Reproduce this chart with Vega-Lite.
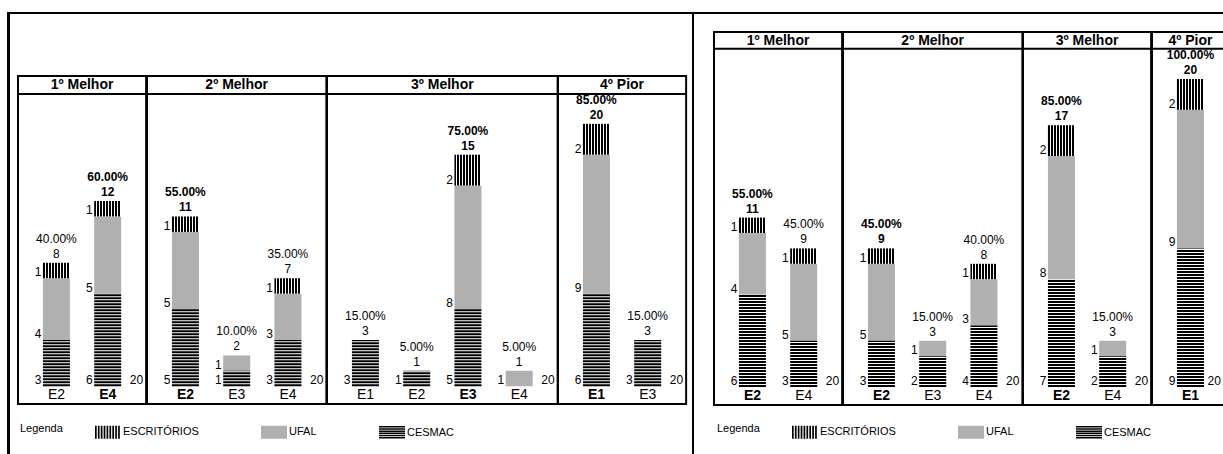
{
 "$schema": "https://vega.github.io/schema/vega-lite/v6.json",
 "padding": {"left": 7, "top": 12, "right": 0, "bottom": 0},
 "config": {
  "font": "Liberation Sans",
  "view": {"stroke": null},
  "axis": {"disable": true},
  "text": {"color": "black"},
  "bar": {"color": {"gradient": "linear", "x1": 0, "y1": 0, "x2": 1, "y2": 0, "stops": [
     {"offset": 0, "color": "#000"}, {"offset": 0.0667, "color": "#000"}, {"offset": 0.0667, "color": "#fff"}, {"offset": 0.1111, "color": "#fff"},
     {"offset": 0.1111, "color": "#000"}, {"offset": 0.1778, "color": "#000"}, {"offset": 0.1778, "color": "#fff"}, {"offset": 0.2222, "color": "#fff"},
     {"offset": 0.2222, "color": "#000"}, {"offset": 0.2889, "color": "#000"}, {"offset": 0.2889, "color": "#fff"}, {"offset": 0.3333, "color": "#fff"},
     {"offset": 0.3333, "color": "#000"}, {"offset": 0.4, "color": "#000"}, {"offset": 0.4, "color": "#fff"}, {"offset": 0.4444, "color": "#fff"},
     {"offset": 0.4444, "color": "#000"}, {"offset": 0.5111, "color": "#000"}, {"offset": 0.5111, "color": "#fff"}, {"offset": 0.5556, "color": "#fff"},
     {"offset": 0.5556, "color": "#000"}, {"offset": 0.6222, "color": "#000"}, {"offset": 0.6222, "color": "#fff"}, {"offset": 0.6667, "color": "#fff"},
     {"offset": 0.6667, "color": "#000"}, {"offset": 0.7333, "color": "#000"}, {"offset": 0.7333, "color": "#fff"}, {"offset": 0.7778, "color": "#fff"},
     {"offset": 0.7778, "color": "#000"}, {"offset": 0.8444, "color": "#000"}, {"offset": 0.8444, "color": "#fff"}, {"offset": 0.8889, "color": "#fff"},
     {"offset": 0.8889, "color": "#000"}, {"offset": 0.9556, "color": "#000"}, {"offset": 0.9556, "color": "#fff"}, {"offset": 1, "color": "#fff"}]}},
  "legend": {"orient": "none", "direction": "horizontal", "titleOrient": "left", "titleAnchor": "middle", "titleBaseline": "middle", "titleFontWeight": "normal", "titleFontSize": 11, "titleColor": "black", "titlePadding": 32, "labelFontSize": 11, "labelColor": "black", "labelOffset": 2, "symbolSize": 676, "symbolStrokeWidth": 0, "columnPadding": 62, "padding": 0},
  "style": {
   "seg": {"align": "right", "baseline": "bottom", "dx": -15, "dy": 1, "fontSize": 12},
   "tot": {"baseline": "bottom", "dy": -2, "fontSize": 12},
   "pct": {"baseline": "bottom", "dy": -17, "fontSize": 12},
   "xl": {"baseline": "top", "dy": 2, "fontSize": 14},
   "hd": {"baseline": "middle", "fontSize": 14, "fontWeight": "bold"},
   "n20": {"align": "right", "baseline": "bottom", "dx": -3, "dy": 1, "fontSize": 12}
  }
 },
 "datasets": {
  "esq": [
   {"grupo": "1º Melhor", "barra": "E2", "CESMAC": 3, "UFAL": 4, "ESCRITÓRIOS": 1, "total": 8, "pct": "40.00%", "destaque": false, "n": 20},
   {"grupo": "1º Melhor", "barra": "E4", "CESMAC": 6, "UFAL": 5, "ESCRITÓRIOS": 1, "total": 12, "pct": "60.00%", "destaque": true, "n": 20},
   {"grupo": "2º Melhor", "barra": "E2", "CESMAC": 5, "UFAL": 5, "ESCRITÓRIOS": 1, "total": 11, "pct": "55.00%", "destaque": true, "n": 20},
   {"grupo": "2º Melhor", "barra": "E3", "CESMAC": 1, "UFAL": 1, "ESCRITÓRIOS": 0, "total": 2, "pct": "10.00%", "destaque": false, "n": 20},
   {"grupo": "2º Melhor", "barra": "E4", "CESMAC": 3, "UFAL": 3, "ESCRITÓRIOS": 1, "total": 7, "pct": "35.00%", "destaque": false, "n": 20},
   {"grupo": "3º Melhor", "barra": "E1", "CESMAC": 3, "UFAL": 0, "ESCRITÓRIOS": 0, "total": 3, "pct": "15.00%", "destaque": false, "n": 20},
   {"grupo": "3º Melhor", "barra": "E2", "CESMAC": 1, "UFAL": 0, "ESCRITÓRIOS": 0, "total": 1, "pct": "5.00%", "destaque": false, "n": 20},
   {"grupo": "3º Melhor", "barra": "E3", "CESMAC": 5, "UFAL": 8, "ESCRITÓRIOS": 2, "total": 15, "pct": "75.00%", "destaque": true, "n": 20},
   {"grupo": "3º Melhor", "barra": "E4", "CESMAC": 0, "UFAL": 1, "ESCRITÓRIOS": 0, "total": 1, "pct": "5.00%", "destaque": false, "n": 20},
   {"grupo": "4º Pior", "barra": "E1", "CESMAC": 6, "UFAL": 9, "ESCRITÓRIOS": 2, "total": 20, "pct": "85.00%", "destaque": true, "n": 20},
   {"grupo": "4º Pior", "barra": "E3", "CESMAC": 3, "UFAL": 0, "ESCRITÓRIOS": 0, "total": 3, "pct": "15.00%", "destaque": false, "n": 20}
  ],
  "dir": [
   {"grupo": "1º Melhor", "barra": "E2", "CESMAC": 6, "UFAL": 4, "ESCRITÓRIOS": 1, "total": 11, "pct": "55.00%", "destaque": true, "n": 20},
   {"grupo": "1º Melhor", "barra": "E4", "CESMAC": 3, "UFAL": 5, "ESCRITÓRIOS": 1, "total": 9, "pct": "45.00%", "destaque": false, "n": 20},
   {"grupo": "2º Melhor", "barra": "E2", "CESMAC": 3, "UFAL": 5, "ESCRITÓRIOS": 1, "total": 9, "pct": "45.00%", "destaque": true, "n": 20},
   {"grupo": "2º Melhor", "barra": "E3", "CESMAC": 2, "UFAL": 1, "ESCRITÓRIOS": 0, "total": 3, "pct": "15.00%", "destaque": false, "n": 20},
   {"grupo": "2º Melhor", "barra": "E4", "CESMAC": 4, "UFAL": 3, "ESCRITÓRIOS": 1, "total": 8, "pct": "40.00%", "destaque": false, "n": 20},
   {"grupo": "3º Melhor", "barra": "E2", "CESMAC": 7, "UFAL": 8, "ESCRITÓRIOS": 2, "total": 17, "pct": "85.00%", "destaque": true, "n": 20},
   {"grupo": "3º Melhor", "barra": "E4", "CESMAC": 2, "UFAL": 1, "ESCRITÓRIOS": 0, "total": 3, "pct": "15.00%", "destaque": false, "n": 20},
   {"grupo": "4º Pior", "barra": "E1", "CESMAC": 9, "UFAL": 9, "ESCRITÓRIOS": 2, "total": 20, "pct": "100.00%", "destaque": true, "n": 20}
  ]
 },
 "spacing": 0,
 "bounds": "flush",
 "vconcat": [
  {"width": 1240, "height": 0.01, "data": {"values": []}, "mark": "point", "encoding": {}, "view": {"stroke": "black", "strokeWidth": 2}},
  {"spacing": 0, "bounds": "flush",
   "resolve": {"scale": {"shape": "independent", "color": "independent"}, "legend": {"shape": "independent", "color": "independent"}},
   "hconcat": [
   {"width": 0.01, "height": 443, "data": {"values": []}, "mark": "point", "encoding": {}, "view": {"stroke": "black", "strokeWidth": 2}},
   {"width": 0.01, "height": 442, "data": {"values": []}, "mark": "point", "encoding": {}, "view": {"stroke": "black", "strokeWidth": 2}},
   {"width": 8, "height": 1, "data": {"values": []}, "mark": "point", "encoding": {}},
   {"width": {"step": 51.25}, "height": 390, "data": {"name": "esq"},
    "transform": [{"filter": "datum.grupo === '1º Melhor'"}, {"fold": ["CESMAC", "UFAL", "ESCRITÓRIOS"], "as": ["serie", "valor"]}, {"stack": "valor", "groupby": ["barra"], "as": ["y0", "y1"]}],
    "layer": [
     {"transform": [{"filter": "datum.serie === 'UFAL'"}], "mark": {"type": "bar", "color": "#b0b0b0", "width": {"band": 0.527}}, "encoding": {"x": {"field": "barra", "type": "nominal", "scale": {"paddingInner": 0, "paddingOuter": 0.25}}, "y": {"field": "y0", "type": "quantitative", "scale": {"domain": [-1.146, 24.113], "nice": false, "zero": false}}, "y2": {"field": "y1"}}},
     {"transform": [{"filter": "datum.serie === 'ESCRITÓRIOS'"}], "mark": {"type": "bar", "width": {"band": 0.527}}, "encoding": {"x": {"field": "barra", "type": "nominal"}, "y": {"field": "y0", "type": "quantitative"}, "y2": {"field": "y1"}}},
     {"transform": [{"filter": "datum.serie === 'CESMAC' && datum.valor > 0"}], "mark": {"type": "rule", "color": "black", "strokeWidth": 27, "strokeDash": [2, 1]}, "encoding": {"x": {"field": "barra", "type": "nominal"}, "y": {"field": "y0", "type": "quantitative"}, "y2": {"field": "y1"}}},
     {"transform": [{"filter": "datum.valor > 0"}], "mark": {"type": "text", "style": "seg"}, "encoding": {"x": {"field": "barra", "type": "nominal"}, "y": {"field": "y0", "type": "quantitative"}, "text": {"field": "valor", "type": "quantitative"}}},
     {"transform": [{"filter": "datum.serie === 'ESCRITÓRIOS'"}], "mark": {"type": "text", "style": "tot", "fontWeight": {"expr": "datum.destaque ? 'bold' : 'normal'"}}, "encoding": {"x": {"field": "barra", "type": "nominal"}, "y": {"field": "y1", "type": "quantitative"}, "text": {"field": "total", "type": "quantitative"}}},
     {"transform": [{"filter": "datum.serie === 'ESCRITÓRIOS'"}], "mark": {"type": "text", "style": "pct", "fontWeight": {"expr": "datum.destaque ? 'bold' : 'normal'"}}, "encoding": {"x": {"field": "barra", "type": "nominal"}, "y": {"field": "y1", "type": "quantitative"}, "text": {"field": "pct", "type": "nominal"}}},
     {"transform": [{"filter": "datum.serie === 'CESMAC'"}], "mark": {"type": "text", "style": "xl", "fontWeight": {"expr": "datum.destaque ? 'bold' : 'normal'"}}, "encoding": {"x": {"field": "barra", "type": "nominal"}, "y": {"datum": 0}, "text": {"field": "barra", "type": "nominal"}}},
     {"transform": [{"aggregate": [{"op": "max", "field": "n", "as": "n"}], "groupby": ["grupo"]}], "mark": {"type": "rect", "filled": false, "color": "black", "strokeWidth": 2}, "encoding": {"y": {"datum": 20.10}, "y2": {"datum": -1.146}}},
     {"transform": [{"aggregate": [{"op": "max", "field": "n", "as": "n"}], "groupby": ["grupo"]}], "mark": {"type": "rule", "color": "black", "strokeWidth": 2}, "encoding": {"y": {"datum": 18.93}}},
     {"transform": [{"aggregate": [{"op": "max", "field": "n", "as": "n"}], "groupby": ["grupo"]}], "mark": {"type": "text", "style": "hd"}, "encoding": {"y": {"datum": 19.51}, "text": {"field": "grupo", "type": "nominal"}}},
     {"transform": [{"aggregate": [{"op": "max", "field": "n", "as": "n"}], "groupby": ["grupo"]}], "mark": {"type": "text", "style": "n20"}, "encoding": {"x": {"value": "width"}, "y": {"datum": 0}, "text": {"field": "n", "type": "quantitative"}}},
     {"transform": [{"filter": "false"}], "mark": {"type": "point", "filled": true, "opacity": 1},
      "encoding": {
       "shape": {"field": "serie", "type": "nominal", "title": "Legenda", "legend": {"legendX": 2, "legendY": 405}, "scale": {"domain": ["ESCRITÓRIOS", "UFAL", "CESMAC"], "range": [
        "M-1,-0.5h0.13v1h-0.13zM-0.778,-0.5h0.13v1h-0.13zM-0.556,-0.5h0.13v1h-0.13zM-0.333,-0.5h0.13v1h-0.13zM-0.111,-0.5h0.13v1h-0.13zM0.111,-0.5h0.13v1h-0.13zM0.333,-0.5h0.13v1h-0.13zM0.556,-0.5h0.13v1h-0.13zM0.778,-0.5h0.13v1h-0.13z",
        "M-1,-0.5h2v1h-2z",
        "M-1,-0.5h2v0.11h-2zM-1,-0.333h2v0.11h-2zM-1,-0.167h2v0.11h-2zM-1,0h2v0.11h-2zM-1,0.167h2v0.11h-2zM-1,0.333h2v0.11h-2z"]}},
       "color": {"field": "serie", "type": "nominal", "title": "Legenda", "legend": {"legendX": 2, "legendY": 405}, "scale": {"domain": ["ESCRITÓRIOS", "UFAL", "CESMAC"], "range": ["#000000", "#b0b0b0", "#000000"]}}}}
    ]},
   {"width": {"step": 51.25}, "height": 390, "data": {"name": "esq"},
    "transform": [{"filter": "datum.grupo === '2º Melhor'"}, {"fold": ["CESMAC", "UFAL", "ESCRITÓRIOS"], "as": ["serie", "valor"]}, {"stack": "valor", "groupby": ["barra"], "as": ["y0", "y1"]}],
    "layer": [
     {"transform": [{"filter": "datum.serie === 'UFAL'"}], "mark": {"type": "bar", "color": "#b0b0b0", "width": {"band": 0.527}}, "encoding": {"x": {"field": "barra", "type": "nominal", "scale": {"paddingInner": 0, "paddingOuter": 0.25}}, "y": {"field": "y0", "type": "quantitative", "scale": {"domain": [-1.146, 24.113], "nice": false, "zero": false}}, "y2": {"field": "y1"}}},
     {"transform": [{"filter": "datum.serie === 'ESCRITÓRIOS'"}], "mark": {"type": "bar", "width": {"band": 0.527}}, "encoding": {"x": {"field": "barra", "type": "nominal"}, "y": {"field": "y0", "type": "quantitative"}, "y2": {"field": "y1"}}},
     {"transform": [{"filter": "datum.serie === 'CESMAC' && datum.valor > 0"}], "mark": {"type": "rule", "color": "black", "strokeWidth": 27, "strokeDash": [2, 1]}, "encoding": {"x": {"field": "barra", "type": "nominal"}, "y": {"field": "y0", "type": "quantitative"}, "y2": {"field": "y1"}}},
     {"transform": [{"filter": "datum.valor > 0"}], "mark": {"type": "text", "style": "seg"}, "encoding": {"x": {"field": "barra", "type": "nominal"}, "y": {"field": "y0", "type": "quantitative"}, "text": {"field": "valor", "type": "quantitative"}}},
     {"transform": [{"filter": "datum.serie === 'ESCRITÓRIOS'"}], "mark": {"type": "text", "style": "tot", "fontWeight": {"expr": "datum.destaque ? 'bold' : 'normal'"}}, "encoding": {"x": {"field": "barra", "type": "nominal"}, "y": {"field": "y1", "type": "quantitative"}, "text": {"field": "total", "type": "quantitative"}}},
     {"transform": [{"filter": "datum.serie === 'ESCRITÓRIOS'"}], "mark": {"type": "text", "style": "pct", "fontWeight": {"expr": "datum.destaque ? 'bold' : 'normal'"}}, "encoding": {"x": {"field": "barra", "type": "nominal"}, "y": {"field": "y1", "type": "quantitative"}, "text": {"field": "pct", "type": "nominal"}}},
     {"transform": [{"filter": "datum.serie === 'CESMAC'"}], "mark": {"type": "text", "style": "xl", "fontWeight": {"expr": "datum.destaque ? 'bold' : 'normal'"}}, "encoding": {"x": {"field": "barra", "type": "nominal"}, "y": {"datum": 0}, "text": {"field": "barra", "type": "nominal"}}},
     {"transform": [{"aggregate": [{"op": "max", "field": "n", "as": "n"}], "groupby": ["grupo"]}], "mark": {"type": "rect", "filled": false, "color": "black", "strokeWidth": 2}, "encoding": {"y": {"datum": 20.10}, "y2": {"datum": -1.146}}},
     {"transform": [{"aggregate": [{"op": "max", "field": "n", "as": "n"}], "groupby": ["grupo"]}], "mark": {"type": "rule", "color": "black", "strokeWidth": 2}, "encoding": {"y": {"datum": 18.93}}},
     {"transform": [{"aggregate": [{"op": "max", "field": "n", "as": "n"}], "groupby": ["grupo"]}], "mark": {"type": "text", "style": "hd"}, "encoding": {"y": {"datum": 19.51}, "text": {"field": "grupo", "type": "nominal"}}},
     {"transform": [{"aggregate": [{"op": "max", "field": "n", "as": "n"}], "groupby": ["grupo"]}], "mark": {"type": "text", "style": "n20"}, "encoding": {"x": {"value": "width"}, "y": {"datum": 0}, "text": {"field": "n", "type": "quantitative"}}}
    ]},
   {"width": {"step": 51.25}, "height": 390, "data": {"name": "esq"},
    "transform": [{"filter": "datum.grupo === '3º Melhor'"}, {"fold": ["CESMAC", "UFAL", "ESCRITÓRIOS"], "as": ["serie", "valor"]}, {"stack": "valor", "groupby": ["barra"], "as": ["y0", "y1"]}],
    "layer": [
     {"transform": [{"filter": "datum.serie === 'UFAL'"}], "mark": {"type": "bar", "color": "#b0b0b0", "width": {"band": 0.527}}, "encoding": {"x": {"field": "barra", "type": "nominal", "scale": {"paddingInner": 0, "paddingOuter": 0.25}}, "y": {"field": "y0", "type": "quantitative", "scale": {"domain": [-1.146, 24.113], "nice": false, "zero": false}}, "y2": {"field": "y1"}}},
     {"transform": [{"filter": "datum.serie === 'ESCRITÓRIOS'"}], "mark": {"type": "bar", "width": {"band": 0.527}}, "encoding": {"x": {"field": "barra", "type": "nominal"}, "y": {"field": "y0", "type": "quantitative"}, "y2": {"field": "y1"}}},
     {"transform": [{"filter": "datum.serie === 'CESMAC' && datum.valor > 0"}], "mark": {"type": "rule", "color": "black", "strokeWidth": 27, "strokeDash": [2, 1]}, "encoding": {"x": {"field": "barra", "type": "nominal"}, "y": {"field": "y0", "type": "quantitative"}, "y2": {"field": "y1"}}},
     {"transform": [{"filter": "datum.valor > 0"}], "mark": {"type": "text", "style": "seg"}, "encoding": {"x": {"field": "barra", "type": "nominal"}, "y": {"field": "y0", "type": "quantitative"}, "text": {"field": "valor", "type": "quantitative"}}},
     {"transform": [{"filter": "datum.serie === 'ESCRITÓRIOS'"}], "mark": {"type": "text", "style": "tot", "fontWeight": {"expr": "datum.destaque ? 'bold' : 'normal'"}}, "encoding": {"x": {"field": "barra", "type": "nominal"}, "y": {"field": "y1", "type": "quantitative"}, "text": {"field": "total", "type": "quantitative"}}},
     {"transform": [{"filter": "datum.serie === 'ESCRITÓRIOS'"}], "mark": {"type": "text", "style": "pct", "fontWeight": {"expr": "datum.destaque ? 'bold' : 'normal'"}}, "encoding": {"x": {"field": "barra", "type": "nominal"}, "y": {"field": "y1", "type": "quantitative"}, "text": {"field": "pct", "type": "nominal"}}},
     {"transform": [{"filter": "datum.serie === 'CESMAC'"}], "mark": {"type": "text", "style": "xl", "fontWeight": {"expr": "datum.destaque ? 'bold' : 'normal'"}}, "encoding": {"x": {"field": "barra", "type": "nominal"}, "y": {"datum": 0}, "text": {"field": "barra", "type": "nominal"}}},
     {"transform": [{"aggregate": [{"op": "max", "field": "n", "as": "n"}], "groupby": ["grupo"]}], "mark": {"type": "rect", "filled": false, "color": "black", "strokeWidth": 2}, "encoding": {"y": {"datum": 20.10}, "y2": {"datum": -1.146}}},
     {"transform": [{"aggregate": [{"op": "max", "field": "n", "as": "n"}], "groupby": ["grupo"]}], "mark": {"type": "rule", "color": "black", "strokeWidth": 2}, "encoding": {"y": {"datum": 18.93}}},
     {"transform": [{"aggregate": [{"op": "max", "field": "n", "as": "n"}], "groupby": ["grupo"]}], "mark": {"type": "text", "style": "hd"}, "encoding": {"y": {"datum": 19.51}, "text": {"field": "grupo", "type": "nominal"}}},
     {"transform": [{"aggregate": [{"op": "max", "field": "n", "as": "n"}], "groupby": ["grupo"]}], "mark": {"type": "text", "style": "n20"}, "encoding": {"x": {"value": "width"}, "y": {"datum": 0}, "text": {"field": "n", "type": "quantitative"}}}
    ]},
   {"width": {"step": 51.25}, "height": 390, "data": {"name": "esq"},
    "transform": [{"filter": "datum.grupo === '4º Pior'"}, {"fold": ["CESMAC", "UFAL", "ESCRITÓRIOS"], "as": ["serie", "valor"]}, {"stack": "valor", "groupby": ["barra"], "as": ["y0", "y1"]}],
    "layer": [
     {"transform": [{"filter": "datum.serie === 'UFAL'"}], "mark": {"type": "bar", "color": "#b0b0b0", "width": {"band": 0.527}}, "encoding": {"x": {"field": "barra", "type": "nominal", "scale": {"paddingInner": 0, "paddingOuter": 0.25}}, "y": {"field": "y0", "type": "quantitative", "scale": {"domain": [-1.146, 24.113], "nice": false, "zero": false}}, "y2": {"field": "y1"}}},
     {"transform": [{"filter": "datum.serie === 'ESCRITÓRIOS'"}], "mark": {"type": "bar", "width": {"band": 0.527}}, "encoding": {"x": {"field": "barra", "type": "nominal"}, "y": {"field": "y0", "type": "quantitative"}, "y2": {"field": "y1"}}},
     {"transform": [{"filter": "datum.serie === 'CESMAC' && datum.valor > 0"}], "mark": {"type": "rule", "color": "black", "strokeWidth": 27, "strokeDash": [2, 1]}, "encoding": {"x": {"field": "barra", "type": "nominal"}, "y": {"field": "y0", "type": "quantitative"}, "y2": {"field": "y1"}}},
     {"transform": [{"filter": "datum.valor > 0"}], "mark": {"type": "text", "style": "seg"}, "encoding": {"x": {"field": "barra", "type": "nominal"}, "y": {"field": "y0", "type": "quantitative"}, "text": {"field": "valor", "type": "quantitative"}}},
     {"transform": [{"filter": "datum.serie === 'ESCRITÓRIOS'"}], "mark": {"type": "text", "style": "tot", "fontWeight": {"expr": "datum.destaque ? 'bold' : 'normal'"}}, "encoding": {"x": {"field": "barra", "type": "nominal"}, "y": {"field": "y1", "type": "quantitative"}, "text": {"field": "total", "type": "quantitative"}}},
     {"transform": [{"filter": "datum.serie === 'ESCRITÓRIOS'"}], "mark": {"type": "text", "style": "pct", "fontWeight": {"expr": "datum.destaque ? 'bold' : 'normal'"}}, "encoding": {"x": {"field": "barra", "type": "nominal"}, "y": {"field": "y1", "type": "quantitative"}, "text": {"field": "pct", "type": "nominal"}}},
     {"transform": [{"filter": "datum.serie === 'CESMAC'"}], "mark": {"type": "text", "style": "xl", "fontWeight": {"expr": "datum.destaque ? 'bold' : 'normal'"}}, "encoding": {"x": {"field": "barra", "type": "nominal"}, "y": {"datum": 0}, "text": {"field": "barra", "type": "nominal"}}},
     {"transform": [{"aggregate": [{"op": "max", "field": "n", "as": "n"}], "groupby": ["grupo"]}], "mark": {"type": "rect", "filled": false, "color": "black", "strokeWidth": 2}, "encoding": {"y": {"datum": 20.10}, "y2": {"datum": -1.146}}},
     {"transform": [{"aggregate": [{"op": "max", "field": "n", "as": "n"}], "groupby": ["grupo"]}], "mark": {"type": "rule", "color": "black", "strokeWidth": 2}, "encoding": {"y": {"datum": 18.93}}},
     {"transform": [{"aggregate": [{"op": "max", "field": "n", "as": "n"}], "groupby": ["grupo"]}], "mark": {"type": "text", "style": "hd"}, "encoding": {"y": {"datum": 19.51}, "text": {"field": "grupo", "type": "nominal"}}},
     {"transform": [{"aggregate": [{"op": "max", "field": "n", "as": "n"}], "groupby": ["grupo"]}], "mark": {"type": "text", "style": "n20"}, "encoding": {"x": {"value": "width"}, "y": {"datum": 0}, "text": {"field": "n", "type": "quantitative"}}}
    ]},
   {"width": 6, "height": 1, "data": {"values": []}, "mark": "point", "encoding": {}},
   {"width": 0.01, "height": 442, "data": {"values": []}, "mark": "point", "encoding": {}, "view": {"stroke": "black", "strokeWidth": 2}},
   {"width": 20, "height": 1, "data": {"values": []}, "mark": "point", "encoding": {}},
   {"width": {"step": 51.25}, "height": 390, "data": {"name": "dir"},
    "transform": [{"filter": "datum.grupo === '1º Melhor'"}, {"fold": ["CESMAC", "UFAL", "ESCRITÓRIOS"], "as": ["serie", "valor"]}, {"stack": "valor", "groupby": ["barra"], "as": ["y0", "y1"]}],
    "layer": [
     {"transform": [{"filter": "datum.serie === 'UFAL'"}], "mark": {"type": "bar", "color": "#b0b0b0", "width": {"band": 0.527}}, "encoding": {"x": {"field": "barra", "type": "nominal", "scale": {"paddingInner": 0, "paddingOuter": 0.25}}, "y": {"field": "y0", "type": "quantitative", "scale": {"domain": [-1.104, 24.221], "nice": false, "zero": false}}, "y2": {"field": "y1"}}},
     {"transform": [{"filter": "datum.serie === 'ESCRITÓRIOS'"}], "mark": {"type": "bar", "width": {"band": 0.527}}, "encoding": {"x": {"field": "barra", "type": "nominal"}, "y": {"field": "y0", "type": "quantitative"}, "y2": {"field": "y1"}}},
     {"transform": [{"filter": "datum.serie === 'CESMAC' && datum.valor > 0"}], "mark": {"type": "rule", "color": "black", "strokeWidth": 27, "strokeDash": [2, 1]}, "encoding": {"x": {"field": "barra", "type": "nominal"}, "y": {"field": "y0", "type": "quantitative"}, "y2": {"field": "y1"}}},
     {"transform": [{"filter": "datum.valor > 0"}], "mark": {"type": "text", "style": "seg"}, "encoding": {"x": {"field": "barra", "type": "nominal"}, "y": {"field": "y0", "type": "quantitative"}, "text": {"field": "valor", "type": "quantitative"}}},
     {"transform": [{"filter": "datum.serie === 'ESCRITÓRIOS'"}], "mark": {"type": "text", "style": "tot", "fontWeight": {"expr": "datum.destaque ? 'bold' : 'normal'"}}, "encoding": {"x": {"field": "barra", "type": "nominal"}, "y": {"field": "y1", "type": "quantitative"}, "text": {"field": "total", "type": "quantitative"}}},
     {"transform": [{"filter": "datum.serie === 'ESCRITÓRIOS'"}], "mark": {"type": "text", "style": "pct", "fontWeight": {"expr": "datum.destaque ? 'bold' : 'normal'"}}, "encoding": {"x": {"field": "barra", "type": "nominal"}, "y": {"field": "y1", "type": "quantitative"}, "text": {"field": "pct", "type": "nominal"}}},
     {"transform": [{"filter": "datum.serie === 'CESMAC'"}], "mark": {"type": "text", "style": "xl", "fontWeight": {"expr": "datum.destaque ? 'bold' : 'normal'"}}, "encoding": {"x": {"field": "barra", "type": "nominal"}, "y": {"datum": 0}, "text": {"field": "barra", "type": "nominal"}}},
     {"transform": [{"aggregate": [{"op": "max", "field": "n", "as": "n"}], "groupby": ["grupo"]}], "mark": {"type": "rect", "filled": false, "color": "black", "strokeWidth": 2}, "encoding": {"y": {"datum": 23.05}, "y2": {"datum": -1.169}}},
     {"transform": [{"aggregate": [{"op": "max", "field": "n", "as": "n"}], "groupby": ["grupo"]}], "mark": {"type": "rule", "color": "black", "strokeWidth": 2}, "encoding": {"y": {"datum": 21.97}}},
     {"transform": [{"aggregate": [{"op": "max", "field": "n", "as": "n"}], "groupby": ["grupo"]}], "mark": {"type": "text", "style": "hd"}, "encoding": {"y": {"datum": 22.5}, "text": {"field": "grupo", "type": "nominal"}}},
     {"transform": [{"aggregate": [{"op": "max", "field": "n", "as": "n"}], "groupby": ["grupo"]}], "mark": {"type": "text", "style": "n20"}, "encoding": {"x": {"value": "width"}, "y": {"datum": 0}, "text": {"field": "n", "type": "quantitative"}}},
     {"transform": [{"filter": "false"}], "mark": {"type": "point", "filled": true, "opacity": 1},
      "encoding": {
       "shape": {"field": "serie", "type": "nominal", "title": "Legenda", "legend": {"legendX": 3, "legendY": 405}, "scale": {"domain": ["ESCRITÓRIOS", "UFAL", "CESMAC"], "range": [
        "M-1,-0.5h0.13v1h-0.13zM-0.778,-0.5h0.13v1h-0.13zM-0.556,-0.5h0.13v1h-0.13zM-0.333,-0.5h0.13v1h-0.13zM-0.111,-0.5h0.13v1h-0.13zM0.111,-0.5h0.13v1h-0.13zM0.333,-0.5h0.13v1h-0.13zM0.556,-0.5h0.13v1h-0.13zM0.778,-0.5h0.13v1h-0.13z",
        "M-1,-0.5h2v1h-2z",
        "M-1,-0.5h2v0.11h-2zM-1,-0.333h2v0.11h-2zM-1,-0.167h2v0.11h-2zM-1,0h2v0.11h-2zM-1,0.167h2v0.11h-2zM-1,0.333h2v0.11h-2z"]}},
       "color": {"field": "serie", "type": "nominal", "title": "Legenda", "legend": {"legendX": 3, "legendY": 405}, "scale": {"domain": ["ESCRITÓRIOS", "UFAL", "CESMAC"], "range": ["#000000", "#b0b0b0", "#000000"]}}}}
    ]},
   {"width": {"step": 51.25}, "height": 390, "data": {"name": "dir"},
    "transform": [{"filter": "datum.grupo === '2º Melhor'"}, {"fold": ["CESMAC", "UFAL", "ESCRITÓRIOS"], "as": ["serie", "valor"]}, {"stack": "valor", "groupby": ["barra"], "as": ["y0", "y1"]}],
    "layer": [
     {"transform": [{"filter": "datum.serie === 'UFAL'"}], "mark": {"type": "bar", "color": "#b0b0b0", "width": {"band": 0.527}}, "encoding": {"x": {"field": "barra", "type": "nominal", "scale": {"paddingInner": 0, "paddingOuter": 0.25}}, "y": {"field": "y0", "type": "quantitative", "scale": {"domain": [-1.104, 24.221], "nice": false, "zero": false}}, "y2": {"field": "y1"}}},
     {"transform": [{"filter": "datum.serie === 'ESCRITÓRIOS'"}], "mark": {"type": "bar", "width": {"band": 0.527}}, "encoding": {"x": {"field": "barra", "type": "nominal"}, "y": {"field": "y0", "type": "quantitative"}, "y2": {"field": "y1"}}},
     {"transform": [{"filter": "datum.serie === 'CESMAC' && datum.valor > 0"}], "mark": {"type": "rule", "color": "black", "strokeWidth": 27, "strokeDash": [2, 1]}, "encoding": {"x": {"field": "barra", "type": "nominal"}, "y": {"field": "y0", "type": "quantitative"}, "y2": {"field": "y1"}}},
     {"transform": [{"filter": "datum.valor > 0"}], "mark": {"type": "text", "style": "seg"}, "encoding": {"x": {"field": "barra", "type": "nominal"}, "y": {"field": "y0", "type": "quantitative"}, "text": {"field": "valor", "type": "quantitative"}}},
     {"transform": [{"filter": "datum.serie === 'ESCRITÓRIOS'"}], "mark": {"type": "text", "style": "tot", "fontWeight": {"expr": "datum.destaque ? 'bold' : 'normal'"}}, "encoding": {"x": {"field": "barra", "type": "nominal"}, "y": {"field": "y1", "type": "quantitative"}, "text": {"field": "total", "type": "quantitative"}}},
     {"transform": [{"filter": "datum.serie === 'ESCRITÓRIOS'"}], "mark": {"type": "text", "style": "pct", "fontWeight": {"expr": "datum.destaque ? 'bold' : 'normal'"}}, "encoding": {"x": {"field": "barra", "type": "nominal"}, "y": {"field": "y1", "type": "quantitative"}, "text": {"field": "pct", "type": "nominal"}}},
     {"transform": [{"filter": "datum.serie === 'CESMAC'"}], "mark": {"type": "text", "style": "xl", "fontWeight": {"expr": "datum.destaque ? 'bold' : 'normal'"}}, "encoding": {"x": {"field": "barra", "type": "nominal"}, "y": {"datum": 0}, "text": {"field": "barra", "type": "nominal"}}},
     {"transform": [{"aggregate": [{"op": "max", "field": "n", "as": "n"}], "groupby": ["grupo"]}], "mark": {"type": "rect", "filled": false, "color": "black", "strokeWidth": 2}, "encoding": {"y": {"datum": 23.05}, "y2": {"datum": -1.169}}},
     {"transform": [{"aggregate": [{"op": "max", "field": "n", "as": "n"}], "groupby": ["grupo"]}], "mark": {"type": "rule", "color": "black", "strokeWidth": 2}, "encoding": {"y": {"datum": 21.97}}},
     {"transform": [{"aggregate": [{"op": "max", "field": "n", "as": "n"}], "groupby": ["grupo"]}], "mark": {"type": "text", "style": "hd"}, "encoding": {"y": {"datum": 22.5}, "text": {"field": "grupo", "type": "nominal"}}},
     {"transform": [{"aggregate": [{"op": "max", "field": "n", "as": "n"}], "groupby": ["grupo"]}], "mark": {"type": "text", "style": "n20"}, "encoding": {"x": {"value": "width"}, "y": {"datum": 0}, "text": {"field": "n", "type": "quantitative"}}}
    ]},
   {"width": {"step": 51.25}, "height": 390, "data": {"name": "dir"},
    "transform": [{"filter": "datum.grupo === '3º Melhor'"}, {"fold": ["CESMAC", "UFAL", "ESCRITÓRIOS"], "as": ["serie", "valor"]}, {"stack": "valor", "groupby": ["barra"], "as": ["y0", "y1"]}],
    "layer": [
     {"transform": [{"filter": "datum.serie === 'UFAL'"}], "mark": {"type": "bar", "color": "#b0b0b0", "width": {"band": 0.527}}, "encoding": {"x": {"field": "barra", "type": "nominal", "scale": {"paddingInner": 0, "paddingOuter": 0.25}}, "y": {"field": "y0", "type": "quantitative", "scale": {"domain": [-1.104, 24.221], "nice": false, "zero": false}}, "y2": {"field": "y1"}}},
     {"transform": [{"filter": "datum.serie === 'ESCRITÓRIOS'"}], "mark": {"type": "bar", "width": {"band": 0.527}}, "encoding": {"x": {"field": "barra", "type": "nominal"}, "y": {"field": "y0", "type": "quantitative"}, "y2": {"field": "y1"}}},
     {"transform": [{"filter": "datum.serie === 'CESMAC' && datum.valor > 0"}], "mark": {"type": "rule", "color": "black", "strokeWidth": 27, "strokeDash": [2, 1]}, "encoding": {"x": {"field": "barra", "type": "nominal"}, "y": {"field": "y0", "type": "quantitative"}, "y2": {"field": "y1"}}},
     {"transform": [{"filter": "datum.valor > 0"}], "mark": {"type": "text", "style": "seg"}, "encoding": {"x": {"field": "barra", "type": "nominal"}, "y": {"field": "y0", "type": "quantitative"}, "text": {"field": "valor", "type": "quantitative"}}},
     {"transform": [{"filter": "datum.serie === 'ESCRITÓRIOS'"}], "mark": {"type": "text", "style": "tot", "fontWeight": {"expr": "datum.destaque ? 'bold' : 'normal'"}}, "encoding": {"x": {"field": "barra", "type": "nominal"}, "y": {"field": "y1", "type": "quantitative"}, "text": {"field": "total", "type": "quantitative"}}},
     {"transform": [{"filter": "datum.serie === 'ESCRITÓRIOS'"}], "mark": {"type": "text", "style": "pct", "fontWeight": {"expr": "datum.destaque ? 'bold' : 'normal'"}}, "encoding": {"x": {"field": "barra", "type": "nominal"}, "y": {"field": "y1", "type": "quantitative"}, "text": {"field": "pct", "type": "nominal"}}},
     {"transform": [{"filter": "datum.serie === 'CESMAC'"}], "mark": {"type": "text", "style": "xl", "fontWeight": {"expr": "datum.destaque ? 'bold' : 'normal'"}}, "encoding": {"x": {"field": "barra", "type": "nominal"}, "y": {"datum": 0}, "text": {"field": "barra", "type": "nominal"}}},
     {"transform": [{"aggregate": [{"op": "max", "field": "n", "as": "n"}], "groupby": ["grupo"]}], "mark": {"type": "rect", "filled": false, "color": "black", "strokeWidth": 2}, "encoding": {"y": {"datum": 23.05}, "y2": {"datum": -1.169}}},
     {"transform": [{"aggregate": [{"op": "max", "field": "n", "as": "n"}], "groupby": ["grupo"]}], "mark": {"type": "rule", "color": "black", "strokeWidth": 2}, "encoding": {"y": {"datum": 21.97}}},
     {"transform": [{"aggregate": [{"op": "max", "field": "n", "as": "n"}], "groupby": ["grupo"]}], "mark": {"type": "text", "style": "hd"}, "encoding": {"y": {"datum": 22.5}, "text": {"field": "grupo", "type": "nominal"}}},
     {"transform": [{"aggregate": [{"op": "max", "field": "n", "as": "n"}], "groupby": ["grupo"]}], "mark": {"type": "text", "style": "n20"}, "encoding": {"x": {"value": "width"}, "y": {"datum": 0}, "text": {"field": "n", "type": "quantitative"}}}
    ]},
   {"width": {"step": 51.25}, "height": 390, "data": {"name": "dir"},
    "transform": [{"filter": "datum.grupo === '4º Pior'"}, {"fold": ["CESMAC", "UFAL", "ESCRITÓRIOS"], "as": ["serie", "valor"]}, {"stack": "valor", "groupby": ["barra"], "as": ["y0", "y1"]}],
    "layer": [
     {"transform": [{"filter": "datum.serie === 'UFAL'"}], "mark": {"type": "bar", "color": "#b0b0b0", "width": {"band": 0.527}}, "encoding": {"x": {"field": "barra", "type": "nominal", "scale": {"paddingInner": 0, "paddingOuter": 0.25}}, "y": {"field": "y0", "type": "quantitative", "scale": {"domain": [-1.104, 24.221], "nice": false, "zero": false}}, "y2": {"field": "y1"}}},
     {"transform": [{"filter": "datum.serie === 'ESCRITÓRIOS'"}], "mark": {"type": "bar", "width": {"band": 0.527}}, "encoding": {"x": {"field": "barra", "type": "nominal"}, "y": {"field": "y0", "type": "quantitative"}, "y2": {"field": "y1"}}},
     {"transform": [{"filter": "datum.serie === 'CESMAC' && datum.valor > 0"}], "mark": {"type": "rule", "color": "black", "strokeWidth": 27, "strokeDash": [2, 1]}, "encoding": {"x": {"field": "barra", "type": "nominal"}, "y": {"field": "y0", "type": "quantitative"}, "y2": {"field": "y1"}}},
     {"transform": [{"filter": "datum.valor > 0"}], "mark": {"type": "text", "style": "seg"}, "encoding": {"x": {"field": "barra", "type": "nominal"}, "y": {"field": "y0", "type": "quantitative"}, "text": {"field": "valor", "type": "quantitative"}}},
     {"transform": [{"filter": "datum.serie === 'ESCRITÓRIOS'"}], "mark": {"type": "text", "style": "tot", "fontWeight": {"expr": "datum.destaque ? 'bold' : 'normal'"}}, "encoding": {"x": {"field": "barra", "type": "nominal"}, "y": {"field": "y1", "type": "quantitative"}, "text": {"field": "total", "type": "quantitative"}}},
     {"transform": [{"filter": "datum.serie === 'ESCRITÓRIOS'"}], "mark": {"type": "text", "style": "pct", "fontWeight": {"expr": "datum.destaque ? 'bold' : 'normal'"}}, "encoding": {"x": {"field": "barra", "type": "nominal"}, "y": {"field": "y1", "type": "quantitative"}, "text": {"field": "pct", "type": "nominal"}}},
     {"transform": [{"filter": "datum.serie === 'CESMAC'"}], "mark": {"type": "text", "style": "xl", "fontWeight": {"expr": "datum.destaque ? 'bold' : 'normal'"}}, "encoding": {"x": {"field": "barra", "type": "nominal"}, "y": {"datum": 0}, "text": {"field": "barra", "type": "nominal"}}},
     {"transform": [{"aggregate": [{"op": "max", "field": "n", "as": "n"}], "groupby": ["grupo"]}], "mark": {"type": "rect", "filled": false, "color": "black", "strokeWidth": 2}, "encoding": {"y": {"datum": 23.05}, "y2": {"datum": -1.169}}},
     {"transform": [{"aggregate": [{"op": "max", "field": "n", "as": "n"}], "groupby": ["grupo"]}], "mark": {"type": "rule", "color": "black", "strokeWidth": 2}, "encoding": {"y": {"datum": 21.97}}},
     {"transform": [{"aggregate": [{"op": "max", "field": "n", "as": "n"}], "groupby": ["grupo"]}], "mark": {"type": "text", "style": "hd"}, "encoding": {"y": {"datum": 22.5}, "text": {"field": "grupo", "type": "nominal"}}},
     {"transform": [{"aggregate": [{"op": "max", "field": "n", "as": "n"}], "groupby": ["grupo"]}], "mark": {"type": "text", "style": "n20", "dx": -8}, "encoding": {"x": {"value": "width"}, "y": {"datum": 0}, "text": {"field": "n", "type": "quantitative"}}}
    ]}
  ]}
 ]
}
